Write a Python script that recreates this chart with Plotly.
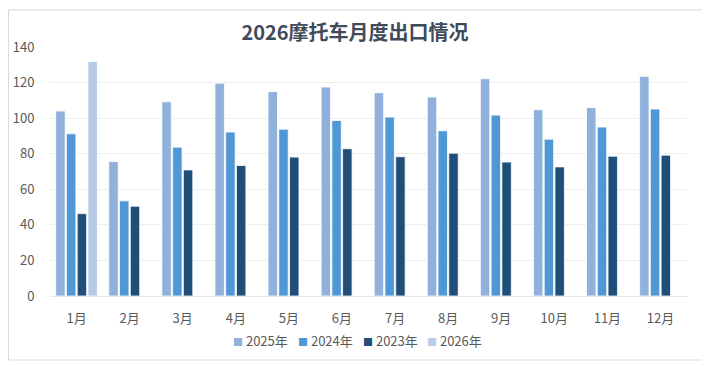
import plotly.graph_objects as go

months = ["1月", "2月", "3月", "4月", "5月", "6月", "7月", "8月", "9月", "10月", "11月", "12月"]
v2025 = [104, 75.6, 109.2, 119.6, 114.9, 117.5, 114.3, 111.9, 122.2, 104.7, 105.9, 123.5]
v2024 = [91.2, 53.5, 83.7, 92.2, 93.8, 98.7, 100.6, 92.9, 101.7, 88.2, 95.0, 105.1]
v2023 = [46.3, 50.5, 70.9, 73.4, 78.1, 82.8, 78.3, 80.3, 75.3, 72.6, 78.6, 79.2]
v2026 = [131.9, None, None, None, None, None, None, None, None, None, None, None]

series = [
    ("2025年", v2025, "#8fb1db"),
    ("2024年", v2024, "#5097d6"),
    ("2023年", v2023, "#1f4e79"),
    ("2026年", v2026, "#b7cbe8"),
]

FONT = "Noto Sans CJK SC, Noto Sans, sans-serif"

# page body has an 8px margin, so the figure is drawn 8px in from the window edge
W, H = 702, 358
ML, MR, MT, MB = 42, 23, 39, 70
PW = W - ML - MR
PH = H - MT - MB

fig = go.Figure()
for name, vals, col in series:
    fig.add_trace(go.Bar(
        x=months, y=vals, name=name, showlegend=False,
        marker=dict(color=col, line=dict(color="white", width=0.8)),
    ))

# compact legend row (Excel style): small square + label, 65px per entry
annotations = []
legend_center_px = 357.5 - 8 - ML
for i, (name, vals, col) in enumerate(series):
    cx = legend_center_px + (i - (len(series) - 1) / 2) * 65
    annotations.append(dict(
        xref="paper", yref="paper", x=cx / PW, y=-(332 - MT - PH) / PH,
        xanchor="center", yanchor="middle", showarrow=False,
        text=f"<span style='color:{col};font-size:10px'>■</span> {name}",
        font=dict(family=FONT, size=13, color="#595959"),
    ))

fig.update_layout(
    width=W, height=H,
    margin=dict(l=ML, r=MR, t=MT, b=MB, autoexpand=False),
    paper_bgcolor="white", plot_bgcolor="white",
    barmode="group", bargap=0.19, bargroupgap=0.12,
    showlegend=False,
    title=dict(text="<b>2026摩托车月度出口情况</b>", x=(355 - 8) / W, xanchor="center",
               yref="container", y=1 - (33 - 8) / H, yanchor="middle",
               font=dict(family=FONT, size=20, color="#404b5a")),
    font=dict(family=FONT, size=13, color="#595959"),
    xaxis=dict(showgrid=False, showline=True, linecolor="#e6e6e6", linewidth=1,
               automargin=False,
               ticks="outside", ticklen=10, tickcolor="rgba(0,0,0,0)",
               tickfont=dict(family=FONT, size=13, color="#595959")),
    yaxis=dict(range=[0, 140], dtick=20, showgrid=True, gridcolor="#eeeeee", gridwidth=1,
               zeroline=False, showline=False, automargin=False,
               ticks="outside", ticklen=12, tickcolor="rgba(0,0,0,0)",
               tickfont=dict(family=FONT, size=13, color="#595959")),
    annotations=annotations,
    shapes=[dict(type="rect", xref="paper", yref="paper",
                 x0=(0.5 - ML) / PW, x1=(W - 4 - ML) / PW,
                 y0=-(352 - MT - PH) / PH, y1=(MT + PH - 2) / PH,
                 line=dict(color="#d9d9d9", width=1), fillcolor="rgba(0,0,0,0)", layer="below")],
)

fig.write_html("out.html")
